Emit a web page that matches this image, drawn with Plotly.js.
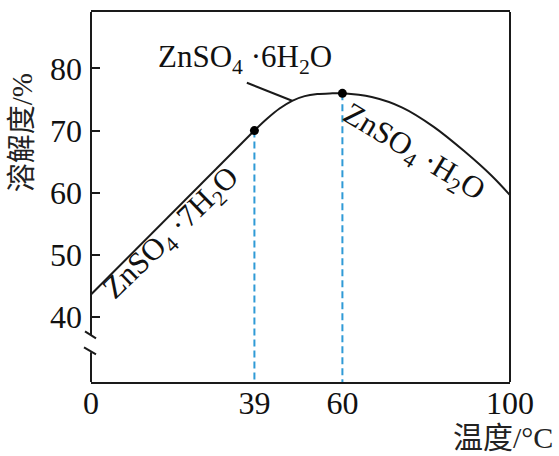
<!DOCTYPE html>
<html>
<head>
<meta charset="utf-8">
<script src="https://cdn.plot.ly/plotly-3.0.1.min.js"></script>
<style>html,body{margin:0;padding:0;background:#fff;}</style>
</head>
<body>
<div id="chart" style="width:559px;height:456px;"></div>
<script>
// ---- data ----
const lineTemp = [0, 39];
const lineSol = [43.6, 70];
const curveTemp = [39, 42, 45, 48, 51, 54, 57, 60, 67, 74.3, 81.8, 89.4, 95.5, 100];
const curveSol = [70, 71.9, 73.55, 74.8, 75.55, 75.88, 75.99, 76, 75.4, 73.7, 70.6, 66.5, 62.8, 59.6];
const transitionTemp = [39, 60];
const transitionSol = [70, 76];
const xTickVals = [0, 39, 60, 100];
const yTickVals = [40, 50, 60, 70, 80];
const xTitle = '温度/°C';
const yTitle = '溶解度/%';
const labelLow = 'ZnSO<sub>4</sub> ·7H<sub>2</sub>O';
const labelMid = 'ZnSO<sub>4</sub> ·6H<sub>2</sub>O';
const labelHigh = 'ZnSO<sub>4</sub> ·H<sub>2</sub>O';

// ---- layout helpers ----
const W = 559, H = 456;
const L = 91, R = 510, T = 11.7, B = 381.7;
const px = p => (p - L) / (R - L);
const py = p => (B - p) / (B - T);
const yRange = [29.5, 89.1];
const ink = '#1a1a1a';
const serif = 'Liberation Serif';
const cjk = 'Liberation Serif, Noto Sans CJK SC, serif';

const traces = [];
// dashed guide lines
transitionTemp.forEach((t, i) => {
  traces.push({
    x: [t, t], y: [transitionSol[i], yRange[0]],
    mode: 'lines', line: {color: '#2f9ad6', width: 2, dash: '7px,4px'},
    hoverinfo: 'skip'
  });
});
traces.push({x: lineTemp, y: lineSol, mode: 'lines', line: {color: ink, width: 2}});
traces.push({x: curveTemp, y: curveSol, mode: 'lines', line: {color: ink, width: 2, shape: 'spline', smoothing: 1}});
traces.push({x: transitionTemp, y: transitionSol, mode: 'markers', marker: {color: '#000', size: 9}});

const layout = {
  width: W, height: H,
  margin: {l: L, r: W - R, t: T, b: H - B},
  paper_bgcolor: '#fff', plot_bgcolor: '#fff',
  showlegend: false,
  font: {family: serif, color: '#111'},
  xaxis: {
    range: [0, 100], tickvals: xTickVals, ticktext: xTickVals.map(String),
    ticks: '', showline: true, mirror: true, linewidth: 2, linecolor: ink,
    showgrid: false, zeroline: false, ticklabelstandoff: -8,
    tickfont: {family: serif, size: 32, color: '#111'}
  },
  yaxis: {
    range: yRange, tickvals: yTickVals, ticktext: yTickVals.map(String),
    ticks: 'inside', ticklen: 9, tickwidth: 2, tickcolor: ink,
    showline: false, showgrid: false, zeroline: false, ticklabelstandoff: 8,
    tickfont: {family: serif, size: 32, color: '#111'}
  },
  shapes: [
    {type: 'line', xref: 'paper', yref: 'paper', x0: 1, x1: 1, y0: 0, y1: 1, line: {color: ink, width: 2}},
    {type: 'line', xref: 'paper', yref: 'paper', x0: 0, x1: 0, y0: py(335), y1: 1, line: {color: ink, width: 2}},
    {type: 'line', xref: 'paper', yref: 'paper', x0: 0, x1: 0, y0: 0, y1: py(352), line: {color: ink, width: 2}},
    {type: 'line', xref: 'paper', yref: 'paper', x0: px(85), y0: py(331), x1: px(96), y1: py(338), line: {color: ink, width: 2}},
    {type: 'line', xref: 'paper', yref: 'paper', x0: px(84), y0: py(347), x1: px(96), y1: py(354), line: {color: ink, width: 2}},
    {type: 'line', xref: 'x', yref: 'y', x0: 37.2, y0: 77.7, x1: curveTemp[3], y1: curveSol[3], line: {color: ink, width: 2}}
  ],
  annotations: [
    {xref: 'paper', yref: 'paper', x: px(245), y: py(59), text: labelMid, showarrow: false,
     xanchor: 'center', yanchor: 'middle', font: {family: serif, size: 31, color: '#111'}},
    {xref: 'paper', yref: 'paper', x: px(172), y: py(234), text: labelLow, showarrow: false, textangle: -44,
     xanchor: 'center', yanchor: 'middle', font: {family: serif, size: 31, color: '#111'}},
    {xref: 'paper', yref: 'paper', x: px(413), y: py(153), text: labelHigh, showarrow: false, textangle: 31,
     xanchor: 'center', yanchor: 'middle', font: {family: serif, size: 31, color: '#111'}},
    {xref: 'paper', yref: 'paper', x: px(22), y: py(133), text: yTitle, showarrow: false, textangle: -90,
     xanchor: 'center', yanchor: 'middle', font: {family: cjk, size: 29, color: '#222'}},
    {xref: 'paper', yref: 'paper', x: px(555), y: py(456), text: xTitle, showarrow: false,
     xanchor: 'right', yanchor: 'bottom', font: {family: cjk, size: 30, color: '#222'}}
  ]
};

Plotly.newPlot('chart', traces, layout, {displayModeBar: false, staticPlot: true});
</script>
</body>
</html>
